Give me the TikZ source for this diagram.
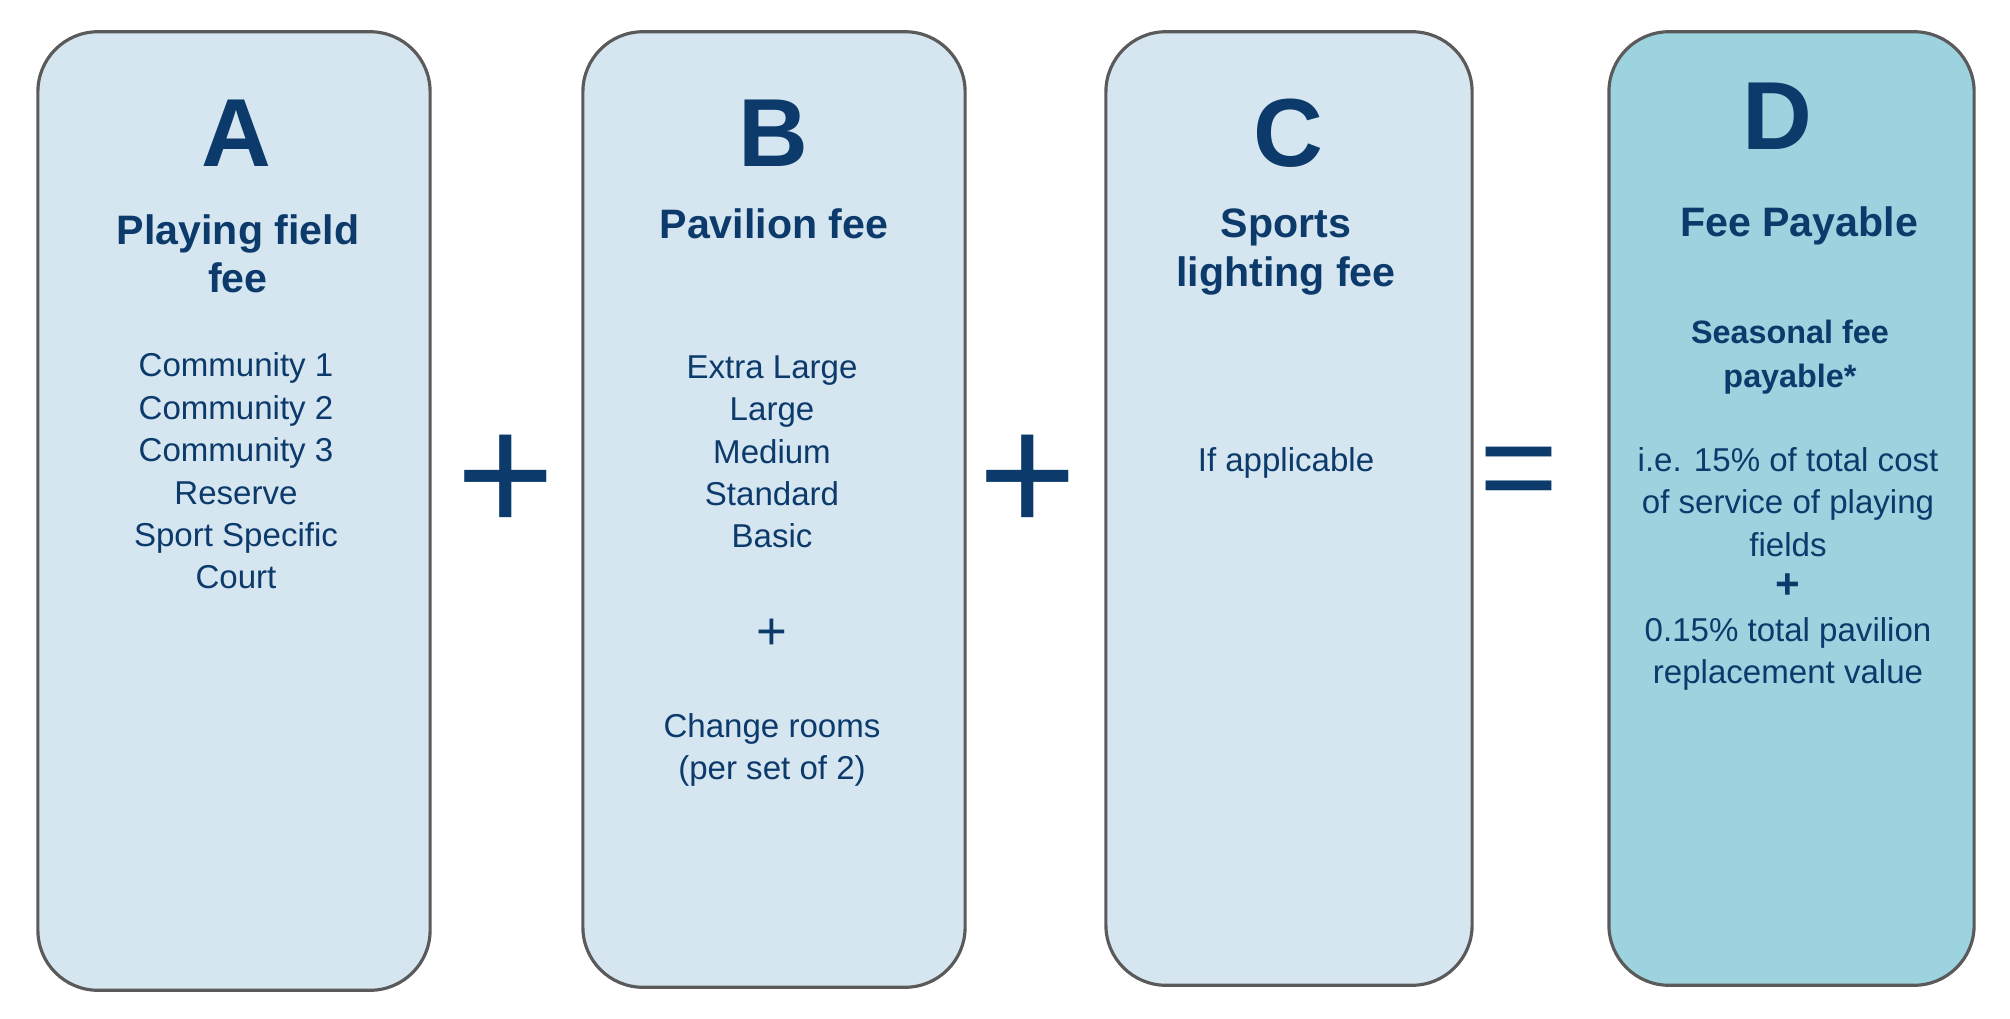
\documentclass[tikz,border=0pt]{standalone}
\usepackage{fontspec}
\setmainfont{Liberation Sans}
\usetikzlibrary{positioning}
\definecolor{navy}{HTML}{0B3A6B}
\definecolor{paleblue}{HTML}{D6E6F1}
\definecolor{tealblue}{HTML}{9DD2DF}
\definecolor{edgegray}{HTML}{5A5A5A}
\tikzset{
        card/.style = {draw=edgegray, line width=0.9pt,
            rounded corners=0.6cm, fill=paleblue,
            inner sep=0pt},
        letter/.style = {text=navy, inner sep=0pt,
            font=\fontsize{27.5}{30}\selectfont\bfseries},
        heading/.style = {text=navy, align=center, inner sep=0pt,
            font=\fontsize{11.7}{13.6}\selectfont\bfseries},
        items/.style = {text=navy, align=center, inner sep=0pt,
            font=\fontsize{9.4}{12.05}\selectfont},
        op/.style = {text=navy, inner sep=0pt,
            font=\fontsize{48}{48}\selectfont},
}
\begin{document}
\begin{tikzpicture}[x=0.01cm, y=-0.01cm]
\useasboundingbox (0,0) rectangle (2010,1018);
% the four cards
\node [card, minimum width=3.92cm, minimum height=9.58cm] (cardA) at (234,511) {};
\node [card, minimum width=3.82cm, minimum height=9.55cm] (cardB) at (774,509.5) {};
\node [card, minimum width=3.66cm, minimum height=9.53cm] (cardC) at (1289,508.5) {};
\node [card, fill=tealblue, minimum width=3.65cm, minimum height=9.53cm] (cardD) at (1791.5,508.5) {};
% card A
\node [letter] (letterA) at (236,133) {A};
\node [heading] (headA) at (238,254) {Playing field\\fee};
\node [items] (itemsA) at (236,471) {Community 1\\Community 2\\Community 3\\Reserve\\Sport Specific\\Court};
% card B
\node [letter] (letterB) at (773,133) {B};
\node [heading] (headB) at (774,224) {Pavilion fee};
\node [items] (itemsB) at (772,452) {Extra Large\\Large\\Medium\\Standard\\Basic};
\node [items, font=\fontsize{15}{15}\selectfont] (plusB) at (772,634) {+};
\node [items] (roomsB) at (772,750) {Change rooms\\(per set of 2)};
% card C
\node [letter] (letterC) at (1288,133) {C};
\node [heading, font=\fontsize{11.7}{14.2}\selectfont\bfseries] (headC) at (1286,252) {Sports\\lighting fee};
\node [items] (itemsC) at (1286,463) {If applicable};
% card D
\node [letter] (letterD) at (1777,116) {D};
\node [heading] (headD) at (1799,226) {Fee Payable};
\node [heading, font=\fontsize{9.2}{12.4}\selectfont\bfseries] (seasonD) at (1790,357) {Seasonal fee\\payable*};
\node [items] (itemsD) at (1788,569) {i.e. 15\% of total cost\\of service of playing\\fields\\{\fontsize{12}{12.05}\selectfont\bfseries +}\\0.15\% total pavilion\\replacement value};
% operators between the cards
\node [op] (plusAB) at (506,484) {+};
\node [op] (plusBC) at (1028,484) {+};
\node [op, font=\fontsize{38.5}{40}\selectfont] (equals) at (1519,480) {=};
\end{tikzpicture}
\end{document}
